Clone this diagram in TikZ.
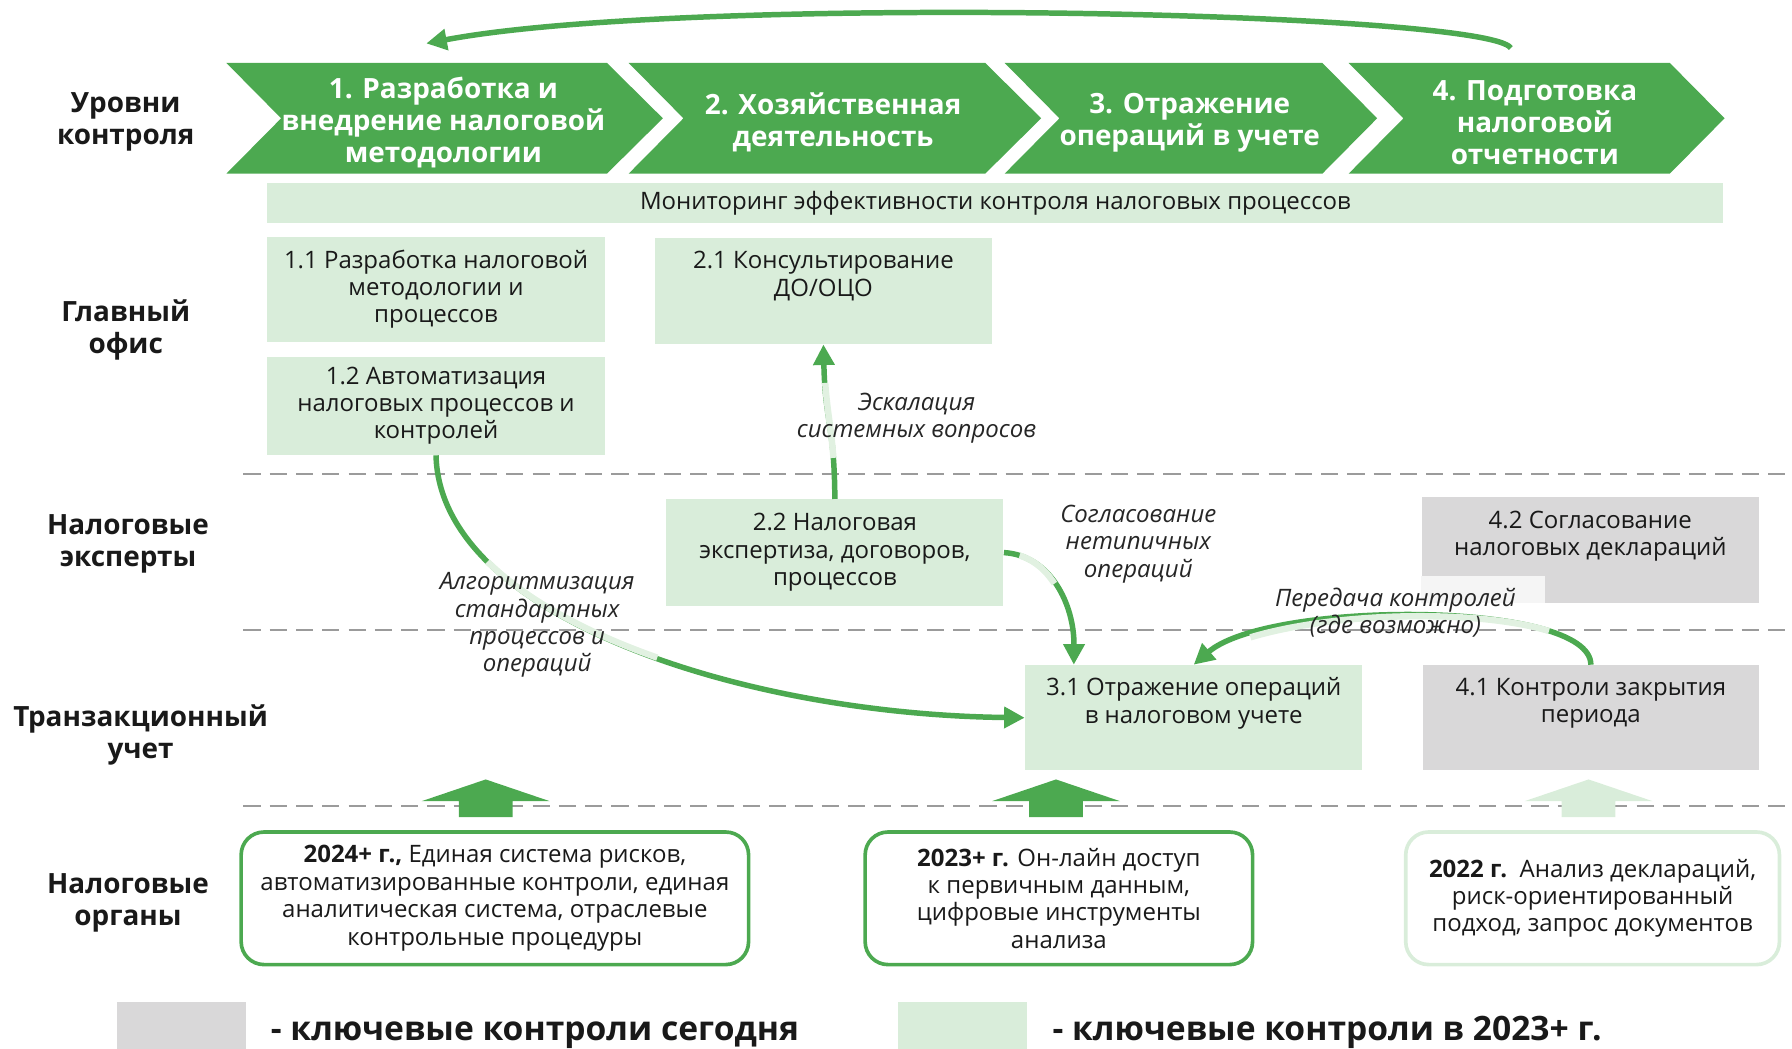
\documentclass[tikz,border=0pt]{standalone}
\usepackage{fontspec}
\setmainfont{Open Sans}
\usetikzlibrary{arrows.meta,positioning}

\definecolor{tgreen}{HTML}{4CA950}
\definecolor{lgreen}{HTML}{D9EDDA}
\definecolor{greybox}{HTML}{D9D8D9}
\definecolor{sepgray}{HTML}{9B9B9B}

\tikzset{
  head/.style={font=\bfseries\fontsize{12.2}{14}\selectfont, align=center, text=black!90},
  chev/.style={head, text=white},
  lbox/.style={fill=lgreen, minimum width=147.5pt, minimum height=46pt, inner sep=0pt,
    align=center, text=black!90, font=\fontsize{10.5}{12}\selectfont},
  kbox/.style={lbox, fill=greybox},
  note/.style={font=\itshape\fontsize{10.5}{12}\selectfont, align=center, text=black!85},
  tbox/.style={draw=tgreen, line width=1.6pt, rounded corners=10pt, minimum height=58pt,
    inner sep=0pt, align=center, text=black!90, font=\fontsize{10.5}{12}\selectfont},
  legtext/.style={font=\bfseries\fontsize{14.7}{18}\selectfont, text=black!90},
  arr/.style={draw=tgreen, line width=2.4pt, -{Triangle[length=9pt,width=9pt]}},
  dimpart/.style 2 args={postaction={draw=lgreen!80!white, line width=2.8pt, -,
    dash pattern=on 0pt off #1 on #2 off 2000pt}},
  sep/.style={draw=sepgray, line width=1pt, dash pattern=on 7.5pt off 4pt},
}

\begin{document}
\begin{tikzpicture}[x=0.5pt,y=-0.5pt]
\useasboundingbox (0,0) rectangle (1568,917);

% separators
\draw[sep] (213,415) -- (1568,415);
\draw[sep] (213,551) -- (1568,551);
\draw[sep] (213,705) -- (1568,705);

% row titles
\node[head] (H1) at (110,107) {Уровни\\контроля};
\node[head] (H2) at (110,289) {Главный\\офис};
\node[head] (H3) at (112,476) {Налоговые\\эксперты};
\node[head] (H4) at (123,643) {Транзакционный\\учет};
\node[head] (H5) at (112,790) {Налоговые\\органы};

% control levels
\fill[tgreen] (198,55) -- (531,55) -- (580,103.5) -- (531,152) -- (198,152) -- (246,103.5) -- cycle;
\fill[tgreen] (550,55) -- (862,55) -- (911,103.5) -- (862,152) -- (550,152) -- (598,103.5) -- cycle;
\fill[tgreen] (879,55) -- (1157,55) -- (1205,103.5) -- (1157,152) -- (879,152) -- (927,103.5) -- cycle;
\fill[tgreen] (1180,55) -- (1461,55) -- (1509,103.5) -- (1461,152) -- (1180,152) -- (1228,103.5) -- cycle;
\node[chev] (C1) at (388,107) {1. Разработка и\\внедрение налоговой\\методологии};
\node[chev] (C2) at (729,107) {2. Хозяйственная\\деятельность};
\node[chev] (C3) at (1041,107) {3. Отражение\\операций в учете};
\node[chev] (C4) at (1343,107) {4. Подготовка\\налоговой\\отчетности};

\coordinate (A4) at (1322,42);
\coordinate (A1) at (373,38);
\draw[arr] (A4) .. controls (1300,10) and (600,-5) .. (A1);

\node[lbox, minimum width=637pt, minimum height=17.5pt] (M) at (871,177.5)
  {Мониторинг эффективности контроля налоговых процессов};

% boxes
\node[lbox] (B11) at (381.5,253) {1.1 Разработка налоговой\\методологии и\\процессов};
\node[lbox, minimum height=46.5pt] (B21) at (720.5,254.5) {2.1 Консультирование\\ДО/ОЦО\\[3pt]~};
\node[lbox, minimum height=43pt] (B12) at (381.5,355) {1.2 Автоматизация\\налоговых процессов и\\контролей};
\node[lbox, minimum height=46.5pt] (B22) at (730.5,483.5) {2.2 Налоговая\\экспертиза, договоров,\\процессов};
\node[kbox, minimum height=46.5pt] (B42) at (1391.5,481.5) {4.2 Согласование\\налоговых деклараций\\[3pt]~};
\fill[black!4] (1243,504) rectangle (1352,528);
\node[lbox] (B31) at (1044.5,628) {3.1 Отражение операций\\в налоговом учете\\[3pt]~};
\node[kbox, minimum width=147pt] (B41) at (1392,628) {4.1 Контроли закрытия\\периода\\[3pt]~};

% flows
\draw[arr, dimpart={18pt}{33pt}] (B22.north) .. controls (730,370) and (722,370) .. (B21.south);
\draw[arr, dimpart={53pt}{86pt}] (B12.south) .. controls (385,540) and (650,625) .. (B31.west);
\draw[arr, dimpart={7pt}{20pt}] (B22.east) .. controls (920,486) and (940,530) .. ([xshift=21.5pt]B31.north west);
\draw[arr, dimpart={25pt}{132pt}] (B41.north) .. controls (1392,525) and (1110,525) .. (B31.north);

\node[note] (N1) at (802,366) {Эскалация\\системных вопросов};
\node[note] (N2) at (470,547) {Алгоритмизация\\стандартных\\процессов и\\операций};
\node[note] (N3) at (996,476) {Согласование\\нетипичных\\операций};
\node[note] (N4) at (1221,536) {Передача контролей\\(где возможно)};

% tax authorities
\foreach \x/\c in {425/tgreen,924/tgreen,1390/lgreen}
  \fill[\c] (\x,682) -- ++(56,19) -- ++(-32.5,0) -- ++(0,14) -- ++(-47,0) -- ++(0,-14) -- ++(-32.5,0) -- cycle;

\node[tbox, minimum width=222pt] (T1) at (433,786)
  {\textbf{2024+ г.,} Единая система рисков,\\автоматизированные контроли, единая\\аналитическая система, отраслевые\\контрольные процедуры};
\node[tbox, minimum width=169.5pt] (T2) at (926.5,786)
  {\textbf{2023+ г.} Он-лайн доступ\\к первичным данным,\\цифровые инструменты\\анализа};
\node[tbox, draw=lgreen, minimum width=163.5pt] (T3) at (1393.5,786)
  {\textbf{2022 г.}\ \ Анализ деклараций,\\риск-ориентированный\\подход, запрос документов};

% legend
\node[fill=greybox, minimum width=56.5pt, minimum height=24pt, anchor=north west] (K1) at (102,876) {};
\node[legtext, anchor=base west] (K1t) at (230,910) {- ключевые контроли сегодня};
\node[fill=lgreen, minimum width=56.5pt, minimum height=24pt, anchor=north west] (K2) at (785,876) {};
\node[legtext, anchor=base west] (K2t) at (914,910) {- ключевые контроли в 2023+ г.};
\end{tikzpicture}
\end{document}
